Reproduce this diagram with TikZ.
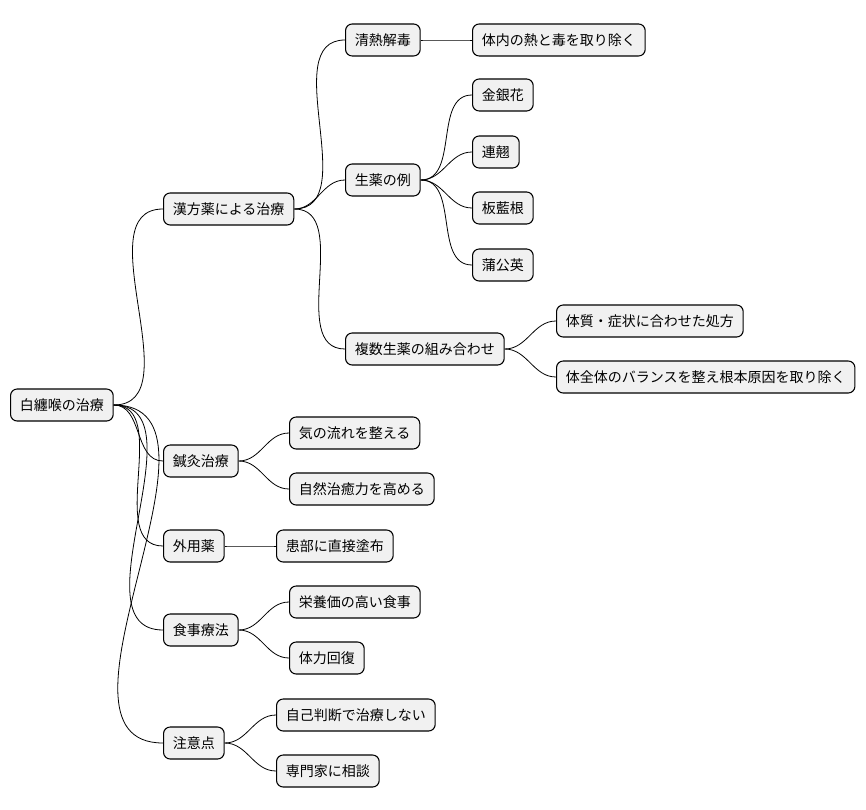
\documentclass[tikz,border=0pt]{standalone}
\usepackage{fontspec}
\newfontfamily\cjk{Noto Sans CJK JP}
\definecolor{boxfill}{HTML}{F1F1F1}
\tikzset{
  topic/.style={draw=black, fill=boxfill, rounded corners=5pt, anchor=west,
    font=\cjk\fontsize{10.5}{12}\selectfont, inner xsep=7pt, inner ysep=0pt,
    minimum height=24pt, line width=0.8pt},
  link/.style={draw=black, line width=0.6pt}
}
\newcommand{\branch}[2]{\draw[link] (#1.east) to[out=0,in=180] (#2.west);}
\begin{document}
\begin{tikzpicture}[x=0.75pt,y=-0.75pt]
\useasboundingbox (0,0) rectangle (866,809);
% root
\node[topic] (root) at (10,405) {白纏喉の治療};
% first level
\node[topic] (kampo) at (163,209) {漢方薬による治療};
\node[topic] (shin) at (163,461) {鍼灸治療};
\node[topic] (gaiyo) at (163,546) {外用薬};
\node[topic] (shoku) at (163,630) {食事療法};
\node[topic] (chui) at (163,743) {注意点};
% kampo
\node[topic] (seinetsu) at (345,40) {清熱解毒};
\node[topic] (taidoku) at (472,40) {体内の熱と毒を取り除く};
\node[topic] (shoyaku) at (345,180) {生薬の例};
\node[topic] (kin) at (472,95) {金銀花};
\node[topic] (ren) at (472,152) {連翹};
\node[topic] (ban) at (472,208) {板藍根};
\node[topic] (ho) at (472,265) {蒲公英};
\node[topic] (fukusu) at (345,349) {複数生薬の組み合わせ};
\node[topic] (taishitsu) at (556,321) {体質・症状に合わせた処方};
\node[topic] (balance) at (556,377) {体全体のバランスを整え根本原因を取り除く};
% shinkyu
\node[topic] (ki) at (289,433) {気の流れを整える};
\node[topic] (chiyu) at (289,489) {自然治癒力を高める};
% gaiyo
\node[topic] (kanbu) at (276,546) {患部に直接塗布};
% shokuji
\node[topic] (eiyo) at (289,602) {栄養価の高い食事};
\node[topic] (tairyoku) at (289,658) {体力回復};
% chui
\node[topic] (jiko) at (276,715) {自己判断で治療しない};
\node[topic] (senmon) at (276,771) {専門家に相談};
% links
\foreach \c in {kampo,shin,gaiyo,shoku,chui} {\branch{root}{\c}}
\foreach \c in {seinetsu,shoyaku,fukusu} {\branch{kampo}{\c}}
\branch{seinetsu}{taidoku}
\foreach \c in {kin,ren,ban,ho} {\branch{shoyaku}{\c}}
\foreach \c in {taishitsu,balance} {\branch{fukusu}{\c}}
\foreach \c in {ki,chiyu} {\branch{shin}{\c}}
\branch{gaiyo}{kanbu}
\foreach \c in {eiyo,tairyoku} {\branch{shoku}{\c}}
\foreach \c in {jiko,senmon} {\branch{chui}{\c}}
\end{tikzpicture}
\end{document}
